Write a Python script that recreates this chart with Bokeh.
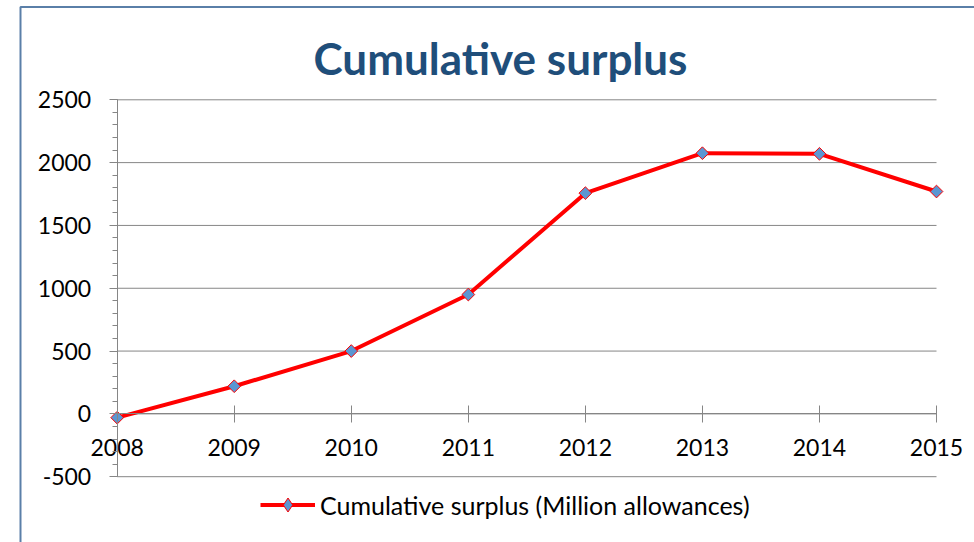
import numpy as np
from bokeh.plotting import figure
from bokeh.models import (Range1d, FixedTicker, Legend, LegendItem, BoxAnnotation,
                          Label, PrintfTickFormatter)
from bokeh.embed import file_html
from bokeh.resources import INLINE

# ---- data ----
years = [2008, 2009, 2010, 2011, 2012, 2013, 2014, 2015]
surplus = [-30, 220, 500, 950, 1757, 2075, 2070, 1770]
y_ticks = [-500, 0, 500, 1000, 1500, 2000, 2500]
y_minor_ticks = list(range(-500, 2501, 100))
series_name = "Cumulative surplus (Million allowances)"
title_text = "Cumulative surplus"

FONT = "Lato"
W, H = 974, 542
# pixel layout of the plot area inside the canvas
PX_LEFT, PX_RIGHT = 116.7, 936.0     # where first / last year sit
PY_TOP, PY_BOTTOM = 99.3, 476.2      # where top / bottom y tick sit

x0, x1 = years[0], years[-1]
y0, y1 = y_ticks[0], y_ticks[-1]
sx = (PX_RIGHT - PX_LEFT) / (x1 - x0)
sy = (PY_BOTTOM - PY_TOP) / (y1 - y0)
x_start = x0 - PX_LEFT / sx
x_end = x1 + (W - PX_RIGHT) / sx
y_end = y1 + PY_TOP / sy
y_start = y0 - (H - PY_BOTTOM) / sy


def cx(px):
    return x_start + px / sx


def cy(py):
    return y_end - py / sy


p = figure(width=W, height=H, output_backend="svg", toolbar_location=None,
           title=None,
           x_range=Range1d(x_start, x_end), y_range=Range1d(y_start, y_end),
           min_border_left=0, min_border_right=0, min_border_top=0,
           min_border_bottom=0)
p.outline_line_color = None
p.background_fill_color = "white"
p.border_fill_color = "white"
p.xgrid.visible = False
p.ygrid.visible = False

# horizontal gridlines limited to the plot area
p.segment(x0=[x0] * len(y_ticks), x1=[x1] * len(y_ticks), y0=y_ticks, y1=y_ticks,
          line_color="#868686", line_width=1)

# y axis at first year
yax = p.yaxis[0]
yax.fixed_location = x0
yax.bounds = (y0, y1)
yax.ticker = FixedTicker(ticks=y_ticks, minor_ticks=y_minor_ticks)
yax.formatter = PrintfTickFormatter(format="%d")
yax.axis_line_color = "#868686"
yax.major_tick_line_color = "#868686"
yax.minor_tick_line_color = "#868686"
yax.major_tick_in = 0
yax.major_tick_out = 8
yax.minor_tick_in = 0
yax.minor_tick_out = 5
yax.major_label_standoff = 18
yax.major_label_text_font = FONT
yax.major_label_text_font_size = "23px"
yax.major_label_text_color = "#000000"

# x axis crossing at y = 0
xax = p.xaxis[0]
xax.fixed_location = 0
xax.bounds = (x0, x1)
xax.ticker = FixedTicker(ticks=years)
xax.axis_line_color = "#868686"
xax.major_tick_line_color = "#868686"
xax.minor_tick_line_color = None
xax.major_tick_in = 8
xax.major_tick_out = 9
xax.major_label_standoff = 16
xax.major_label_text_font = FONT
xax.major_label_text_font_size = "23px"
xax.major_label_text_color = "#000000"

ln = p.line(years, surplus, line_color="#FF0000", line_width=4)
sc = p.scatter(years, surplus, marker="square", angle=np.pi / 4, size=9,
               fill_color="#5B96D2", line_color="#FF0000", line_width=1)
# legend-only marker (legend glyphs are drawn unrotated); not drawn in the plot
leg_marker = p.scatter(years, surplus, marker="diamond", size=15,
                       fill_color="#5B96D2", line_color="#FF0000", line_width=1)
leg_marker.visible = False

legend = Legend(items=[LegendItem(label=series_name, renderers=[ln, leg_marker])],
                location=(260, 20), orientation="horizontal",
                glyph_width=55, glyph_height=35, label_standoff=5,
                padding=0, margin=0, spacing=0,
                border_line_color=None, background_fill_alpha=0,
                inactive_fill_alpha=0,
                label_text_font=FONT, label_text_font_size="25px",
                label_text_color="#000000")
p.add_layout(legend)

# title
title = Label(x=500, y=H - 57, x_units="screen", y_units="screen", text=title_text,
              text_font=FONT, text_font_style="bold", text_font_size="44px",
              text_color="#1F4E7A", text_align="center", text_baseline="alphabetic")
p.add_layout(title)

# chart-area frame (left & top edges visible in the crop)
frame_box = BoxAnnotation(left=cx(20), right=x_end + 5, top=cy(6.5), bottom=y_start - 500,
                          fill_alpha=0, line_color="#5A7FA8", line_alpha=1.0,
                          line_width=2, level="overlay")
p.add_layout(frame_box)

open("out.html", "w").write(file_html(p, INLINE))
